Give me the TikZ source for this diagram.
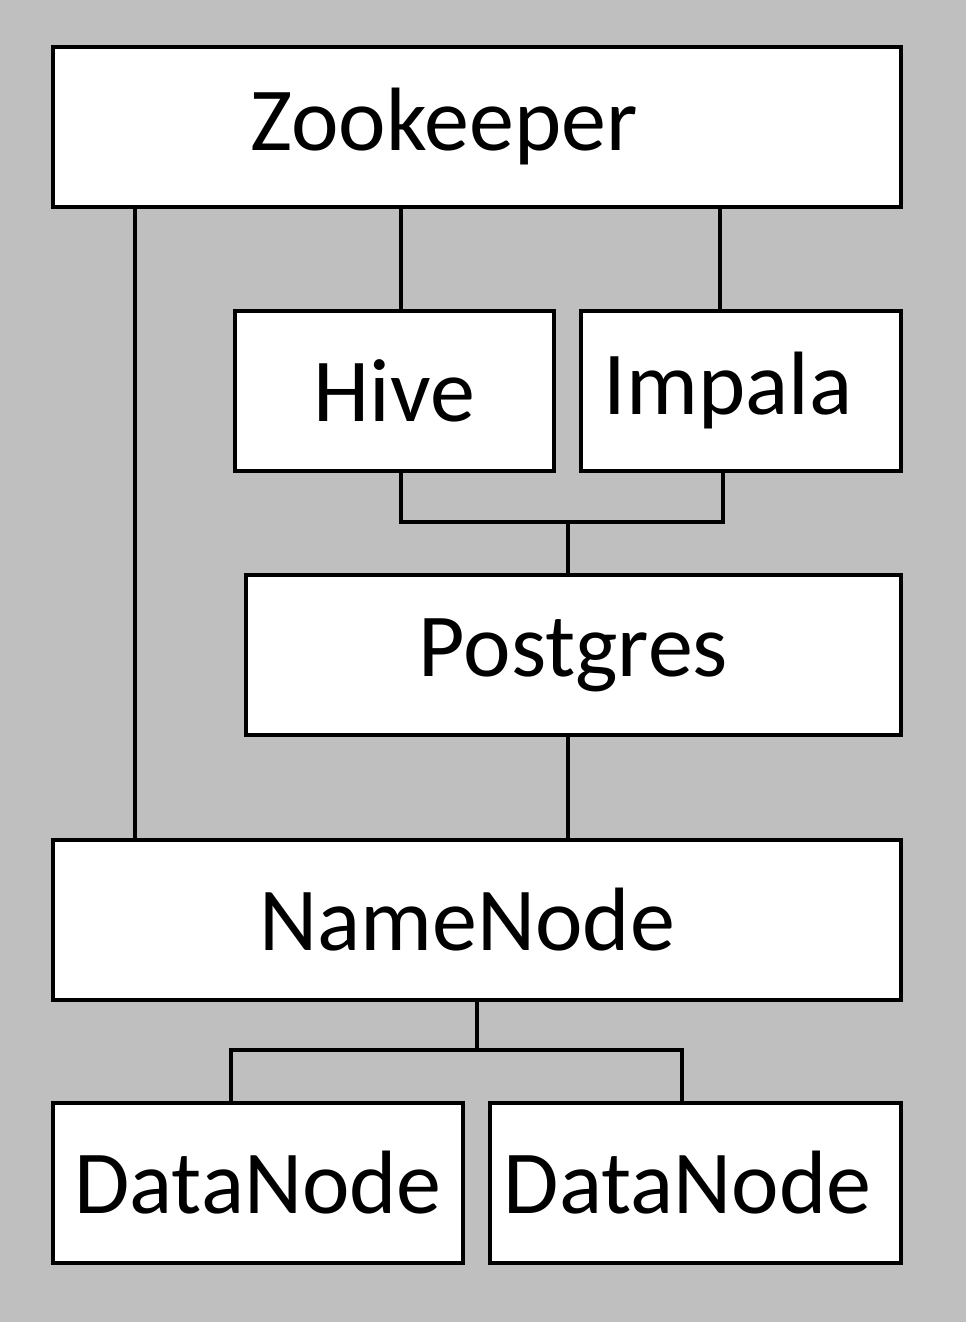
\documentclass[tikz,border=0pt]{standalone}
\usepackage{fontspec}
\setmainfont{Carlito}
\definecolor{bggray}{HTML}{BFBFBF}
\tikzset{
    box/.style={draw,fill=white,line width=2pt,inner sep=0pt,
        font=\fontsize{45}{50}\selectfont,minimum height=80pt},
    wire/.style={line width=2pt}
}

\begin{document}
\begin{tikzpicture}[x=0.5pt,y=-0.5pt]
    \fill[bggray] (0,0) rectangle (966,1322);
    \node[box,minimum width=424pt] (zk) at (477,127) {Zookeeper\hspace*{33pt}};
    \node[box,minimum width=159.5pt] (hive) at (394.5,391) {Hive};
    \node[box,minimum width=160pt] (impala) at (741,391) {Impala\hspace*{13pt}};
    \node[box,minimum width=327.5pt] (pg) at (573.5,655) {Postgres};
    \node[box,minimum width=424pt] (nn) at (477,920) {NameNode\hspace*{10pt}};
    \node[box,minimum width=205pt] (dn1) at (258,1183) {DataNode};
    \node[box,minimum width=205.5pt] (dn2) at (695.5,1183) {DataNode\hspace*{8pt}};
    \coordinate (hj) at (568,522);
    \coordinate (dj) at (477,1050);
    \draw[wire] ([xshift=42pt]zk.south west) -- ([xshift=42pt]zk.south west |- nn.north);
    \draw[wire] ([xshift=3.25pt]hive.north) -- ([xshift=3.25pt]hive.north |- zk.south);
    \draw[wire] ([xshift=-10.5pt]impala.north) -- ([xshift=-10.5pt]impala.north |- zk.south);
    \draw[wire] ([xshift=3.25pt]hive.south) |- ([xshift=-9pt]impala.south |- hj) -- ([xshift=-9pt]impala.south);
    \draw[wire] (hj) -- (hj |- pg.north);
    \draw[wire] (hj |- pg.south) -- (hj |- nn.north);
    \draw[wire] (nn.south) -- (dj);
    \draw[wire] ([xshift=-13.5pt]dn1.north) |- (dj) -| ([xshift=-6.75pt]dn2.north);
\end{tikzpicture}
\end{document}
